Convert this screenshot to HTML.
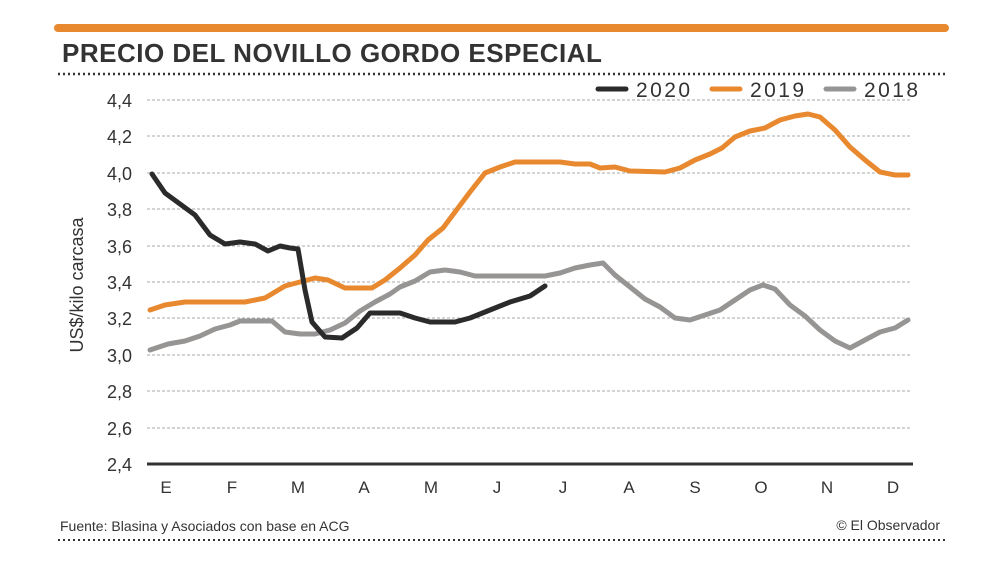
<!DOCTYPE html>
<html><head><meta charset="utf-8"><style>
body{margin:0;background:#fff;width:1000px;height:562px;overflow:hidden}
text{font-family:"Liberation Sans Narrow","Liberation Sans",sans-serif}
</style></head><body>
<svg width="1000" height="562" viewBox="0 0 1000 562" xmlns="http://www.w3.org/2000/svg">
<line x1="58" y1="28" x2="945" y2="28" stroke="#e8892f" stroke-width="8" stroke-linecap="round"/>
<text x="62" y="62" font-weight="bold" font-size="26" fill="#333" letter-spacing="0.5" style="font-family:'Liberation Sans',sans-serif">PRECIO DEL NOVILLO GORDO ESPECIAL</text>
<line x1="58" y1="74" x2="948" y2="74" stroke="#333" stroke-width="2.5" stroke-dasharray="2,3"/>
<g stroke="#aaa" stroke-width="1" stroke-dasharray="3,2">
<line x1="147" y1="100" x2="912" y2="100"/><line x1="147" y1="136" x2="912" y2="136"/>
<line x1="147" y1="173" x2="912" y2="173"/><line x1="147" y1="209" x2="912" y2="209"/>
<line x1="147" y1="246" x2="912" y2="246"/><line x1="147" y1="282" x2="912" y2="282"/>
<line x1="147" y1="318" x2="912" y2="318"/><line x1="147" y1="355" x2="912" y2="355"/>
<line x1="147" y1="391" x2="912" y2="391"/><line x1="147" y1="428" x2="912" y2="428"/>
</g>
<line x1="147" y1="464" x2="913" y2="464" stroke="#333" stroke-width="3"/>
<g font-size="18" fill="#333" text-anchor="end">
<text x="132" y="107">4,4</text><text x="132" y="143">4,2</text><text x="132" y="180">4,0</text>
<text x="132" y="216">3,8</text><text x="132" y="253">3,6</text><text x="132" y="289">3,4</text>
<text x="132" y="325">3,2</text><text x="132" y="362">3,0</text><text x="132" y="398">2,8</text>
<text x="132" y="435">2,6</text><text x="132" y="471">2,4</text>
</g>
<text transform="translate(83,285) rotate(-90)" font-size="18" fill="#333" text-anchor="middle">US$/kilo carcasa</text>
<g font-size="17" fill="#333" text-anchor="middle">
<text x="166" y="493">E</text><text x="232" y="493">F</text><text x="298" y="493">M</text>
<text x="364" y="493">A</text><text x="431" y="493">M</text><text x="497" y="493">J</text>
<text x="563" y="493">J</text><text x="629" y="493">A</text><text x="695" y="493">S</text>
<text x="761" y="493">O</text><text x="827" y="493">N</text><text x="893" y="493">D</text>
</g>
<g stroke-width="5" stroke-linecap="round" fill="none" stroke-linejoin="round">
<polyline stroke="#979494" points="150,350 168,344 185,341 200,336 215,329 230,325 240,321 272,321 285,332 300,334 315,334 330,330 345,323 360,311 375,302 390,294 400,287 415,281 430,272 445,270 460,272 475,276 545,276 560,273 575,268 590,265 603,263 615,275 630,287 645,299 660,307 675,318 690,320 705,315 720,310 735,300 750,290 763,285 775,289 790,305 805,316 820,330 835,341 850,348 865,340 880,332 895,328 908,320"/>
<polyline stroke="#e8892f" points="150,310 165,305 185,302 245,302 265,298 285,286 300,282 315,278 328,280 345,288 372,288 385,280 400,268 415,255 428,240 443,228 455,212 470,192 485,173 500,167 515,162 560,162 575,164 590,164 600,168 615,167 630,171 665,172 680,168 695,160 710,154 722,148 735,137 750,131 765,128 780,120 795,116 808,114 820,117 835,130 850,147 865,160 880,172 895,175 908,175"/>
<polyline stroke="#2b2b2b" points="152,174 165,193 180,204 195,215 210,235 225,244 240,242 255,244 268,251 280,246 290,248 298,249 305,290 312,322 325,337 342,338 357,328 370,313 400,313 415,318 430,322 455,322 470,318 490,310 510,302 530,296 545,286"/>
<line x1="598" y1="89" x2="626" y2="89" stroke="#2b2b2b"/>
<line x1="712" y1="89" x2="740" y2="89" stroke="#e8892f"/>
<line x1="826" y1="89" x2="854" y2="89" stroke="#979494"/>
</g>
<g font-size="21" fill="#333">
<text x="636" y="97" textLength="54" style="font-family:'Liberation Sans',sans-serif">2020</text>
<text x="750" y="97" textLength="54" style="font-family:'Liberation Sans',sans-serif">2019</text>
<text x="864" y="97" textLength="54" style="font-family:'Liberation Sans',sans-serif">2018</text>
</g>
<text x="60" y="531" font-size="14" fill="#333">Fuente: Blasina y Asociados con base en ACG</text>
<text x="940" y="530" font-size="14" fill="#333" text-anchor="end">© El Observador</text>
<line x1="58" y1="540" x2="948" y2="540" stroke="#333" stroke-width="2" stroke-dasharray="2,3"/>
</svg>
</body></html>
